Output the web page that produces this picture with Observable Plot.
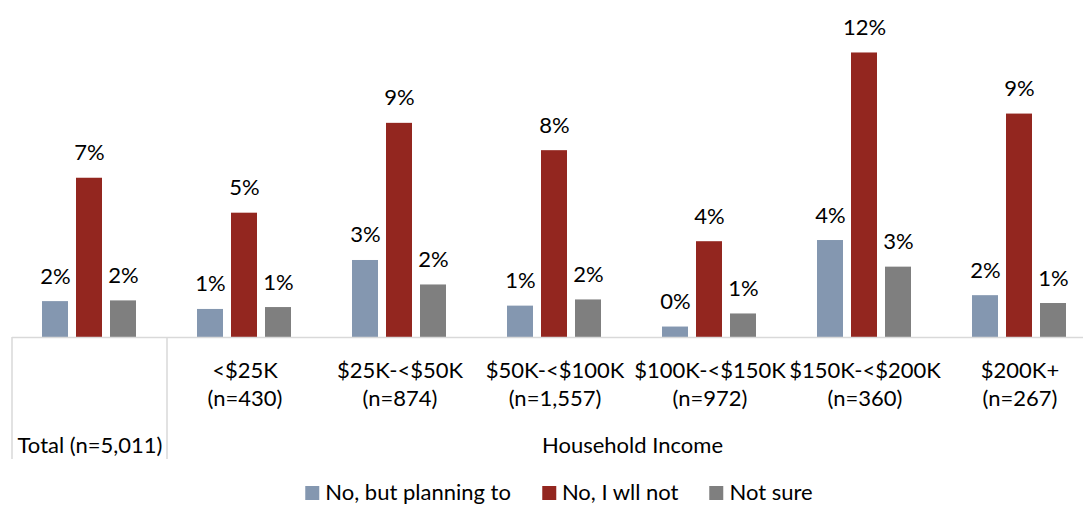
<!DOCTYPE html>
<html>
<head>
<meta charset="utf-8">
<script src="https://cdn.jsdelivr.net/npm/d3@7"></script>
<script src="https://cdn.jsdelivr.net/npm/@observablehq/plot@0.6"></script>
<style>
  html, body { margin: 0; padding: 0; background: #fff; overflow: hidden; }
  #wrap { position: relative; width: 1083px; height: 506px; overflow: hidden; font-family: Lato, sans-serif; }
  #legend { position: absolute; top: 480px; left: 559px; transform: translateX(-50%); white-space: nowrap;
            font-size: 22px; line-height: 24px; color: #000; }
  #legend .item { display: inline-block; margin-right: 31px; }
  #legend .item:last-child { margin-right: 0; }
  #legend .sw { display: inline-block; width: 14px; height: 14px; margin-right: 6px; }
</style>
</head>
<body>
<div id="wrap"><div id="chart"></div><div id="legend"></div></div>
<script>
// ---- data ----
const categories = ["Total", "<$25K", "$25K-<$50K", "$50K-<$100K", "$100K-<$150K", "$150K-<$200K", "$200K+"];
const sampleSizes = ["5,011", "430", "874", "1,557", "972", "360", "267"];
const groupLabel = "Household Income";
const series = ["No, but planning to", "No, I wll not", "Not sure"];
const planningTo = [1.51, 1.18, 3.24, 1.32, 0.44, 4.08, 1.76];
const willNot    = [6.70, 5.23, 9.01, 7.86, 4.03, 11.97, 9.40];
const notSure    = [1.54, 1.26, 2.21, 1.58, 0.99, 2.96, 1.43];
const colors = ["#8497B0", "#93261F", "#7F7F7F"];

// ---- tables ----
const seriesValues = [planningTo, willNot, notSure];
const table = categories.flatMap((c, i) => series.map((s, j) => ({category: c, series: s, value: seriesValues[j][i]})));
const incomeRows = categories.slice(1).map((c, i) => ({category: c, n: sampleSizes[i + 1]}));
const totalRow = [{category: categories[0], label: `${categories[0]} (n=${sampleSizes[0]})`}];
const groupRow = [{category: categories[3], label: groupLabel}];

const W = 1099, H = 462;
const chart = Plot.plot({
  width: W, height: H,
  marginTop: 28, marginBottom: 125, marginLeft: 10, marginRight: 0,
  style: {fontFamily: "Lato, sans-serif", fontSize: "22px", color: "#000", background: "transparent", maxWidth: "none", overflow: "visible"},
  fx: {domain: categories, padding: 0, axis: null, label: null},
  x: {domain: series, paddingInner: 0.229, paddingOuter: 0.837, axis: null},
  y: {domain: [0, 13], axis: null},
  color: {domain: series, range: colors},
  marks: [
    Plot.barY(table, {fx: "category", x: "series", y: "value", fill: "series"}),
    Plot.ruleY([0], {stroke: "#d9d9d9", strokeWidth: 1.5}),
    Plot.text(table, {fx: "category", x: "series", y: "value", text: d => `${Math.round(d.value)}%`,
      lineAnchor: "bottom", dy: -18, fill: "#000"}),
    Plot.text(incomeRows, {fx: "category", x: null, y: null, text: d => `${d.category}\n(n=${d.n})`,
      frameAnchor: "bottom", lineAnchor: "bottom", lineHeight: 1.27, dy: 68, fill: "#000"}),
    Plot.text(totalRow, {fx: "category", x: null, y: null, text: "label",
      frameAnchor: "bottom", lineAnchor: "bottom", dy: 115, fill: "#000"}),
    Plot.text(groupRow, {fx: "category", x: null, y: null, text: "label",
      frameAnchor: "bottom-right", textAnchor: "middle", lineAnchor: "bottom", dy: 115, fill: "#000"})
  ]
});
document.getElementById("chart").appendChild(chart);

// ---- separators of the category table, through Plot's scales ----
const fxs = chart.scale("fx");
const ys = chart.scale("y");
const fxApply = fxs.apply ? fxs.apply : (v => fxs.range[0] + fxs.step * fxs.domain.indexOf(v));
const y0 = ys.apply(0);
d3.select(chart).append("g")
  .attr("stroke", "#d9d9d9").attr("stroke-width", 1.5)
  .selectAll("line").data(categories.slice(0, 2)).join("line")
  .attr("x1", d => fxApply(d)).attr("x2", d => fxApply(d))
  .attr("y1", y0).attr("y2", H - 3);

// ---- legend from the colour scale ----
const cs = chart.scale("color");
const legend = d3.select("#legend");
cs.domain.forEach((s, i) => {
  const item = legend.append("span").attr("class", "item");
  item.append("span").attr("class", "sw").style("background", cs.range[i]);
  item.append("span").text(s);
});
</script>
</body>
</html>
